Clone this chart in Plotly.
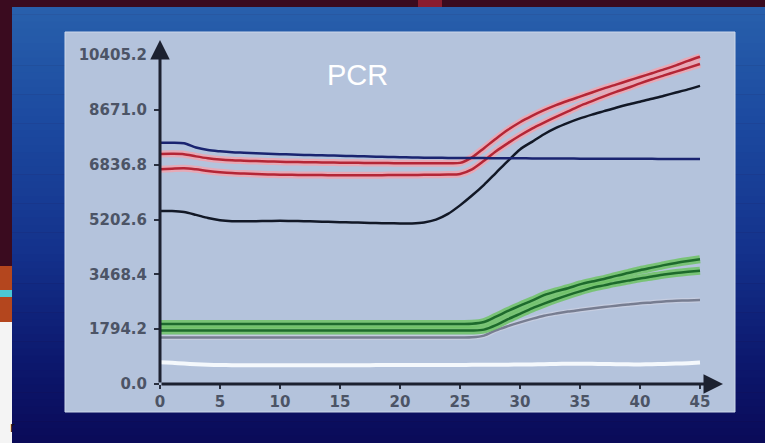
import plotly.graph_objects as go

# ---------------- data ----------------
cycles = list(range(46))

navy = [7632, 7632, 7615, 7480, 7400, 7360, 7330, 7315, 7300, 7285,
        7270, 7258, 7245, 7237, 7228, 7220, 7210, 7200, 7190, 7182,
        7175, 7168, 7160, 7155, 7152, 7150, 7148, 7145, 7142, 7140,
        7138, 7136, 7134, 7132, 7130, 7128, 7126, 7125, 7124, 7123,
        7122, 7121, 7120, 7119, 7118, 7117]

red_upper = [7275, 7280, 7270, 7200, 7140, 7100, 7075, 7062, 7050, 7040,
             7030, 7022, 7015, 7010, 7005, 7000, 6996, 6993, 6990, 6987,
             6985, 6982, 6980, 6980, 6982, 6995, 7170, 7460, 7760, 8040,
             8280, 8480, 8660, 8820, 8960, 9090, 9220, 9350, 9470, 9590,
             9710, 9830, 9950, 10080, 10220, 10350]

red_lower = [6790, 6810, 6825, 6790, 6740, 6700, 6670, 6655, 6640, 6630,
             6620, 6615, 6610, 6608, 6606, 6605, 6605, 6605, 6605, 6607,
             6610, 6612, 6615, 6620, 6625, 6645, 6790, 7060, 7360, 7620,
             7860, 8080, 8270, 8450, 8620, 8800, 8950, 9100, 9240, 9370,
             9510, 9640, 9760, 9880, 10000, 10120]

black = [5470, 5470, 5440, 5350, 5250, 5180, 5150, 5150, 5150, 5155,
         5160, 5155, 5150, 5140, 5130, 5120, 5110, 5100, 5090, 5085,
         5080, 5080, 5110, 5200, 5380, 5650, 5960, 6300, 6680, 7060,
         7420, 7660, 7900, 8100, 8260, 8400, 8520, 8630, 8740, 8840,
         8930, 9020, 9120, 9220, 9320, 9430]

green_upper = [1900, 1900, 1900, 1900, 1900, 1900, 1900, 1900, 1900, 1900,
               1900, 1900, 1900, 1900, 1900, 1900, 1900, 1900, 1900, 1900,
               1900, 1900, 1900, 1900, 1900, 1900, 1905, 1960, 2130, 2310,
               2480, 2640, 2810, 2930, 3030, 3150, 3240, 3320, 3420, 3510,
               3600, 3680, 3760, 3830, 3890, 3944]

green_lower = [1690, 1690, 1690, 1690, 1690, 1690, 1690, 1690, 1690, 1690,
               1690, 1690, 1690, 1690, 1690, 1690, 1690, 1690, 1690, 1690,
               1690, 1690, 1690, 1690, 1690, 1690, 1692, 1720, 1860, 2050,
               2220, 2390, 2540, 2680, 2810, 2930, 3040, 3120, 3200, 3270,
               3340, 3400, 3460, 3510, 3550, 3584]

gray = [1470, 1470, 1470, 1470, 1470, 1470, 1470, 1470, 1470, 1470,
        1470, 1470, 1470, 1470, 1470, 1470, 1470, 1470, 1470, 1470,
        1470, 1470, 1470, 1470, 1470, 1470, 1475, 1530, 1700, 1830,
        1950, 2060, 2160, 2230, 2290, 2340, 2390, 2435, 2475, 2515,
        2553, 2580, 2610, 2630, 2645, 2657]

white = [690, 670, 645, 625, 610, 600, 595, 592, 590, 590,
         590, 590, 590, 590, 590, 590, 592, 595, 598, 600,
         600, 600, 600, 600, 600, 602, 605, 608, 610, 612,
         615, 620, 628, 635, 640, 640, 638, 632, 626, 622,
         620, 625, 635, 645, 660, 680]

y_tick_vals = [0.0, 1734.2, 3468.4, 5202.6, 6936.8, 8671.0, 10405.2]
y_tick_text = ["0.0", "1794.2", "3468.4", "5202.6", "6836.8", "8671.0", "10405.2"]
x_tick_vals = [0, 5, 10, 15, 20, 25, 30, 35, 40, 45]
x_tick_text = ["0", "5", "10", "15", "20", "25", "30", "35", "40", "45"]
title_text = "PCR"

# ---------------- geometry / styling ----------------
W, H = 765, 443
L, R, T, B = 160, 42, 40, 59
PW, PH = W - L - R, H - T - B
X_MAX = PW / 12.0
Y_MAX = PH * 31.63


def xp(px):
    return (px - L) / PW


def yp(py):
    return (H - B - py) / PH


fig = go.Figure()


def add_line(y, core, width, halo=None, halo_width=0):
    if halo:
        fig.add_trace(go.Scatter(x=cycles, y=y, mode="lines",
                                 line=dict(color=halo, width=halo_width, shape="spline", smoothing=0.8),
                                 hoverinfo="skip", showlegend=False))
    fig.add_trace(go.Scatter(x=cycles, y=y, mode="lines",
                             line=dict(color=core, width=width, shape="spline", smoothing=0.8),
                             showlegend=False))


add_line(white, "#f4f8fc", 4)
add_line(gray, "#777d91", 2.5, "rgba(205,210,225,0.7)", 5)
add_line(green_lower, "#1d6a2c", 2.5, "rgba(110,195,100,0.85)", 8)
add_line(green_upper, "#1d6a2c", 2.5, "rgba(110,195,100,0.85)", 8)
add_line(black, "#121826", 2.5)
add_line(red_lower, "#b42636", 2.5, "rgba(240,165,175,0.85)", 7)
add_line(red_upper, "#b42636", 2.5, "rgba(240,165,175,0.85)", 7)
add_line(navy, "#1a2470", 2.5)

shapes = []


def rect(x0, y0, x1, y1, color, line=None):
    d = dict(type="rect", xref="paper", yref="paper",
             x0=xp(x0), x1=xp(x1), y0=yp(y1), y1=yp(y0),
             fillcolor=color, layer="below", line=dict(width=0))
    if line:
        d["line"] = line
    shapes.append(d)


# slide gradient
stops = [(7, (40, 96, 172)), (120, (28, 74, 160)), (250, (20, 50, 140)),
         (360, (12, 24, 110)), (443, (10, 10, 88))]


def grad(yv):
    for (y0, c0), (y1, c1) in zip(stops[:-1], stops[1:]):
        if y0 <= yv <= y1:
            t = (yv - y0) / (y1 - y0)
            return tuple(int(round(a + (b - a) * t)) for a, b in zip(c0, c1))
    return stops[-1][1]


n = 60
step = (H - 7) / n
for i in range(n):
    ya = 7 + i * step
    c = grad(ya + step / 2)
    rect(12, ya, W, ya + step + 0.6, "rgb(%d,%d,%d)" % c)

rect(418, 0, 442, 7, "#8a1c2e")
rect(0, 266, 12, 322, "#b4461e")
rect(0, 290, 12, 297, "#4cc8d4")
rect(0, 322, 12, H, "#f4f4f4")
rect(65, 32, 735, 412, "#b4c3dc", line=dict(color="#cdd8ea", width=1))

annotations = [
    dict(x=X_MAX, y=0, ax=0, ay=0, xref="x", yref="y", axref="x", ayref="y",
         text="", showarrow=True, arrowhead=2, arrowsize=1.3, arrowwidth=3,
         arrowcolor="#1c2130", standoff=0, startstandoff=0),
    dict(x=0, y=Y_MAX, ax=0, ay=0, xref="x", yref="y", axref="x", ayref="y",
         text="", showarrow=True, arrowhead=2, arrowsize=1.3, arrowwidth=3,
         arrowcolor="#1c2130", standoff=0, startstandoff=0),
    dict(x=(357 - L) / 12.0, y=(H - B - 75) * 31.63, xref="x", yref="y",
         text=title_text, showarrow=False,
         font=dict(family="Liberation Sans, Arial", size=29, color="#ffffff")),
    dict(x=xp(8), y=yp(437), xref="paper", yref="paper", text="r", showarrow=False,
         font=dict(family="Liberation Sans, Arial", size=15, color="#111111")),
]

tick_font = dict(family="DejaVu Sans", size=15, color="#4c5466", weight="bold")

fig.update_layout(
    width=W, height=H,
    margin=dict(l=L, r=R, t=T, b=B, pad=0),
    paper_bgcolor="#3a0b1f",
    plot_bgcolor="rgba(0,0,0,0)",
    showlegend=False,
    shapes=shapes,
    annotations=annotations,
    xaxis=dict(range=[0, X_MAX], showgrid=False, zeroline=False, showline=False,
               tickmode="array", tickvals=x_tick_vals, ticktext=x_tick_text,
               ticks="outside", ticklen=4, tickwidth=2, tickcolor="#2a3040",
               ticklabelstandoff=0, tickfont=tick_font, fixedrange=True),
    yaxis=dict(range=[0, Y_MAX], showgrid=False, zeroline=False, showline=False,
               tickmode="array", tickvals=y_tick_vals, ticktext=y_tick_text,
               ticks="outside", ticklen=5, tickwidth=2, tickcolor="#2a3040",
               ticklabelstandoff=4, tickfont=tick_font, fixedrange=True),
)

fig.write_html("out.html", config={"displayModeBar": False},
               post_script="document.body.style.margin='0';document.body.style.overflow='hidden';")
